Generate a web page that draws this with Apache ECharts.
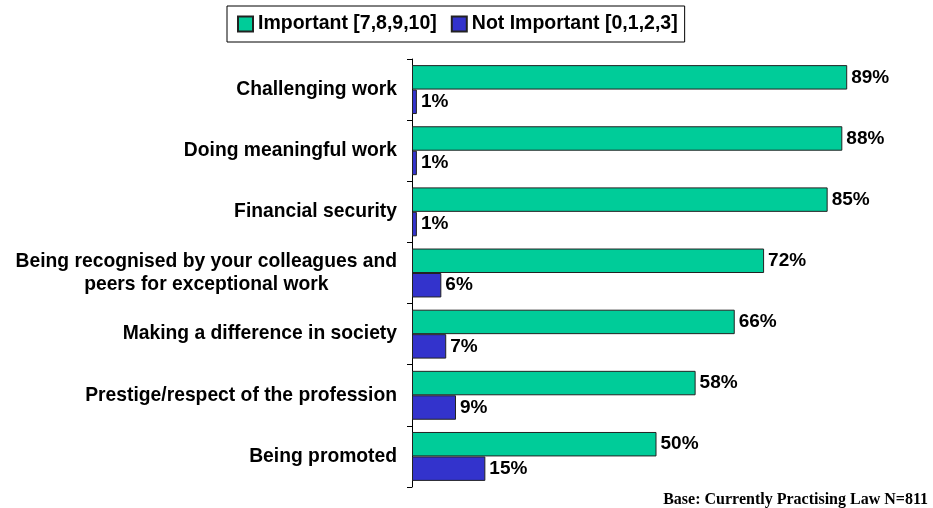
<!DOCTYPE html>
<html>
<head>
<meta charset="utf-8">
<script src="https://cdn.jsdelivr.net/npm/echarts@6/dist/echarts.min.js"></script>
<style>
	html, body { margin: 0; padding: 0; background: #fff; }
	#main { width: 933px; height: 508px; }
</style>
</head>
<body>
<div id="main"></div>
<script>
// data
var categories = [
	'Challenging work',
	'Doing meaningful work',
	'Financial security',
	'Being recognised by your colleagues and\npeers for exceptional work',
	'Making a difference in society',
	'Prestige/respect of the profession',
	'Being promoted'
];
var important = [89, 88, 85, 72, 66, 58, 50];
var notImportant = [1, 1, 1, 6, 7, 9, 15];
var seriesNames = ['Important [7,8,9,10]', 'Not Important [0,1,2,3]'];
var footnote = 'Base: Currently Practising Law N=811';

var chart = echarts.init(document.getElementById('main'));
var font = '"Liberation Sans", Arial, sans-serif';

var valueLabel = {
	show: true,
	position: 'right',
	distance: 4,
	formatter: '{c}%',
	color: '#000',
	fontFamily: font,
	fontWeight: 'bold',
	fontSize: 19
};

var option = {
	animation: false,
	backgroundColor: '#fff',
	textStyle: { fontFamily: font },
	legend: {
		left: 227,
		top: 6,
		padding: [8, 7, 8, 10],
		itemGap: 14,
		itemWidth: 15,
		itemHeight: 15,
		borderColor: '#000',
		borderWidth: 1,
		icon: 'rect',
		textStyle: {
			color: '#000',
			fontFamily: font,
			fontWeight: 'bold',
			fontSize: 19.5
		},
		data: seriesNames
	},
	grid: {
		left: 412,
		right: 32,
		top: 59,
		bottom: 21,
		containLabel: false
	},
	xAxis: {
		type: 'value',
		min: 0,
		max: 100,
		show: false
	},
	yAxis: {
		type: 'category',
		inverse: true,
		data: categories,
		axisLine: { show: true, lineStyle: { color: '#000', width: 1 } },
		axisTick: { show: true, length: 5, lineStyle: { color: '#000' } },
		axisLabel: {
			margin: 15,
			formatter: function (val) {
				return val.split('\n').map(function (s) { return '{a|' + s + '}'; }).join('\n');
			},
			rich: {
				a: {
					align: 'center',
					color: '#000',
					fontFamily: font,
					fontWeight: 'bold',
					fontSize: 19.3,
					lineHeight: 23
				}
			}
		}
	},
	series: [
		{
			name: seriesNames[0],
			type: 'bar',
			data: important,
			barGap: 0,
			barCategoryGap: '20%',
			itemStyle: { color: '#00CC99', borderColor: '#222', borderWidth: 1 },
			label: valueLabel
		},
		{
			name: seriesNames[1],
			type: 'bar',
			data: notImportant,
			barGap: 0,
			barCategoryGap: '20%',
			itemStyle: { color: '#3333CC', borderColor: '#222', borderWidth: 1 },
			label: valueLabel
		}
	],
	graphic: [{
		type: 'text',
		right: 5,
		bottom: 0,
		style: {
			text: footnote,
			fill: '#000',
			font: 'bold 16px "Liberation Serif", "Times New Roman", serif'
		}
	}]
};
chart.setOption(option);
</script>
</body>
</html>
